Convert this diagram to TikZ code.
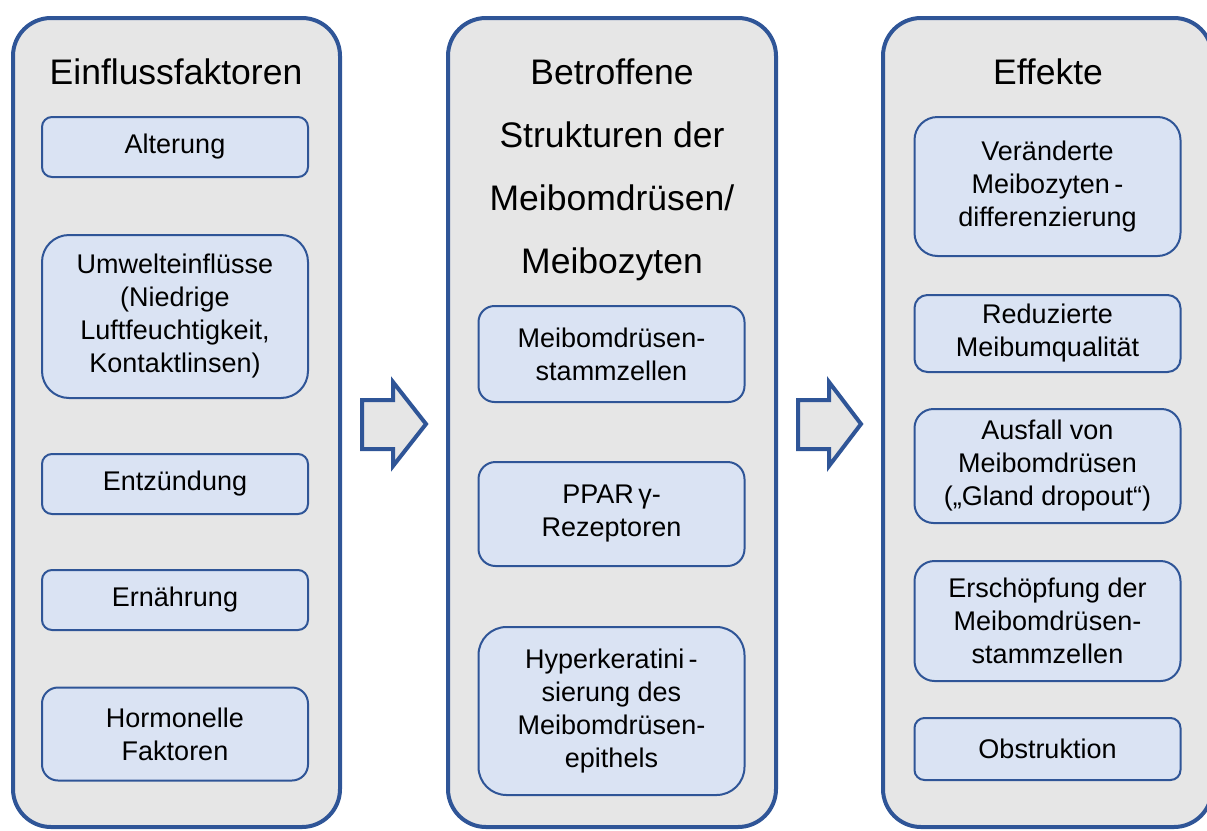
\documentclass[tikz,border=0pt]{standalone}
\usepackage{fontspec}
\setmainfont{Liberation Sans}
\definecolor{bblue}{HTML}{2F5597}
\definecolor{bgray}{HTML}{E6E6E6}
\definecolor{lblue}{HTML}{DAE3F3}
\tikzset{
  outerbox/.style={draw=bblue, line width=4pt, fill=bgray, rounded corners=38pt},
  innerbox/.style={draw=bblue, line width=2pt, fill=lblue, align=center, minimum width=266pt, inner sep=0pt, font=\fontsize{27}{33}\selectfont},
  titletext/.style={anchor=base, font=\fontsize{35.5}{63}\selectfont, inner sep=0pt},
  blockarrow/.style={draw=bblue, line width=4pt, fill=bgray, line join=miter},
}
\begin{document}
\begin{tikzpicture}[x=1pt,y=-1pt]
\useasboundingbox (0,0) rectangle (1207,830);
% outer panels
\draw[outerbox] (13,18) rectangle (340,827);
\draw[outerbox] (448,18) rectangle (776,827);
\draw[outerbox] (883,18) rectangle (1212,827);
% titles
\node[titletext] (t1) at (176,84) {Einflussfaktoren};
\node[titletext] (t2a) at (612,84) {Betroffene};
\node[titletext] (t2b) at (612,147) {Strukturen der};
\node[titletext] (t2c) at (612,210) {Meibomdrüsen/};
\node[titletext] (t2d) at (612,273) {Meibozyten};
\node[titletext] (t3) at (1048,84) {Effekte};
% left column
\node[innerbox, minimum height=60pt, rounded corners=10pt] (l1) at (175,147) {Alterung};
\node[innerbox, minimum height=163pt, rounded corners=27pt] (l2) at (175,316.5) {Umwelteinflüsse\\(Niedrige\\Luftfeuchtigkeit,\\Kontaktlinsen)};
\node[innerbox, minimum height=60pt, rounded corners=10pt] (l3) at (175,484) {Entzündung};
\node[innerbox, minimum height=60pt, rounded corners=10pt] (l4) at (175,600) {Ernährung};
\node[innerbox, minimum height=93pt, rounded corners=16pt] (l5) at (175,734) {Hormonelle\\Faktoren};
% middle column
\node[innerbox, minimum height=96pt, rounded corners=16pt] (m1) at (611.5,354) {Meibomdrüsen-\\stammzellen};
\node[innerbox, minimum height=104pt, rounded corners=17pt] (m2) at (611.5,514) {PPAR\,γ-\\Rezeptoren};
\node[innerbox, minimum height=168pt, rounded corners=28pt] (m3) at (611.5,711) {Hyperkeratini\,-\\sierung des\\Meibomdrüsen-\\epithels};
% right column
\node[innerbox, minimum height=139pt, rounded corners=23pt] (r1) at (1047.5,186.5) {Veränderte\\Meibozyten\,-\\differenzierung};
\node[innerbox, minimum height=77pt, rounded corners=13pt] (r2) at (1047.5,333.5) {Reduzierte\\Meibumqualität};
\node[innerbox, minimum height=114pt, rounded corners=19pt] (r3) at (1047.5,466) {Ausfall von\\Meibomdrüsen\\(„Gland dropout“)};
\node[innerbox, minimum height=120pt, rounded corners=20pt] (r4) at (1047.5,621) {Erschöpfung der\\Meibomdrüsen-\\stammzellen};
\node[innerbox, minimum height=62pt, rounded corners=10pt] (r5) at (1047.5,749) {Obstruktion};
% block arrows
\draw[blockarrow] (362,400) -- (393,400) -- (393,382) -- (426,424) -- (393,466) -- (393,449) -- (362,449) -- cycle;
\draw[blockarrow] (798,400) -- (829,400) -- (829,382) -- (861,424) -- (829,466) -- (829,449) -- (798,449) -- cycle;
\end{tikzpicture}
\end{document}
